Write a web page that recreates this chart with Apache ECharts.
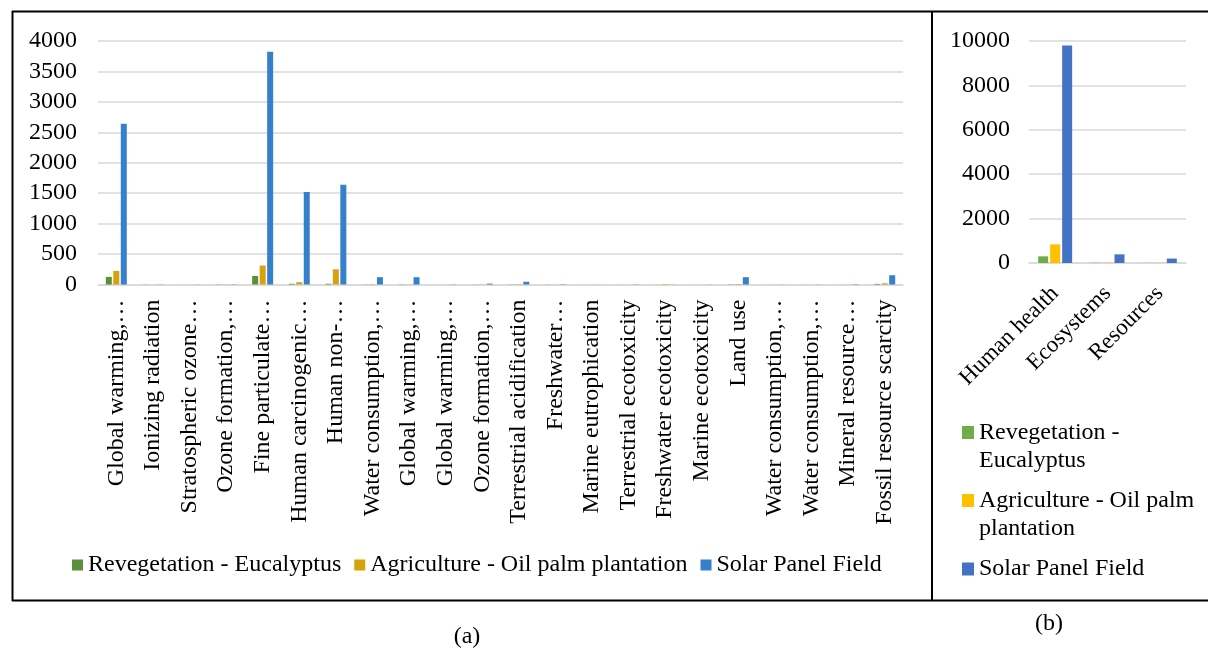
<!DOCTYPE html>
<html>
<head>
<meta charset="utf-8">
<script src="https://cdn.jsdelivr.net/npm/echarts@6/dist/echarts.min.js"></script>
<style>
  html, body { margin: 0; padding: 0; background: #fff; }
  #chart { width: 1208px; height: 651px; }
</style>
</head>
<body>
<div id="chart"></div>
<script>
// (a) midpoint impact categories
const midpointCategories = [
  'Global warming,…', 'Ionizing radiation', 'Stratospheric ozone…', 'Ozone formation,…',
  'Fine particulate…', 'Human carcinogenic…', 'Human non-…', 'Water consumption,…',
  'Global warming,…', 'Global warming,…', 'Ozone formation,…', 'Terrestrial acidification',
  'Freshwater…', 'Marine eutrophication', 'Terrestrial ecotoxicity', 'Freshwater ecotoxicity',
  'Marine ecotoxicity', 'Land use', 'Water consumption,…', 'Water consumption,…',
  'Mineral resource…', 'Fossil resource scarcity'
];
const midpointReveg = [125, 2, 1, 3, 141, 12, 12, 2, 3, 1, 2, 3, 2, 1, 1, 1, 1, 4, 1, 1, 1, 10];
const midpointAgri  = [223, 1, 1, 3, 311, 38, 250, 5, 3, 1, 3, 6, 2, 1, 1, 8, 1, 8, 2, 1, 1, 20];
const midpointSolar = [2640, 3, 2, 4, 3825, 1520, 1639, 120, 120, 3, 15, 45, 5, 1, 3, 2, 2, 120, 2, 2, 5, 152];

// (b) endpoint damage categories
const endpointCategories = ['Human health', 'Ecosystems', 'Resources'];
const endpointReveg = [300, 10, 5];
const endpointAgri  = [840, 15, 10];
const endpointSolar = [9800, 390, 200];

const seriesNames = ['Revegetation - Eucalyptus', 'Agriculture - Oil palm plantation', 'Solar Panel Field'];
const colorsA = ['#5B8F3B', '#D5A30C', '#3580CB'];
const colorsB = ['#70AD47', '#FFC000', '#4472C4'];
const wrappedNames = {
  'Revegetation - Eucalyptus': 'Revegetation -\nEucalyptus',
  'Agriculture - Oil palm plantation': 'Agriculture - Oil palm\nplantation',
  'Solar Panel Field': 'Solar Panel Field'
};

const FONT = '"Liberation Serif", "Times New Roman", serif';
const chart = echarts.init(document.getElementById('chart'), null, { renderer: 'canvas' });

const gridLine = { show: true, lineStyle: { color: '#D9D9D9', width: 1.5 } };
const baseAxisLine = { show: true, lineStyle: { color: '#D9D9D9', width: 1.5 } };
const plainNumber = v => String(v);

// legend icon with the square kept at the top of a taller box,
// so it lines up with the first line of wrapped text
const topSquare = 'path://M0 0H12V13H0Z M0 41.99H0.01V42H0Z';

function rightLegend(idx, top, twoLines) {
  return {
    orient: 'vertical',
    left: 962,
    top: top,
    padding: 0,
    itemWidth: 12,
    itemHeight: twoLines ? 42 : 13,
    itemGap: 0,
    icon: twoLines ? topSquare : 'rect',
    data: [{ name: seriesNames[idx], itemStyle: { color: colorsB[idx] } }],
    formatter: name => wrappedNames[name],
    textStyle: { fontFamily: FONT, fontSize: 24, color: '#000', lineHeight: 28, padding: [0, 0, 0, 0] }
  };
}

const option = {
  animation: false,
  backgroundColor: '#fff',
  textStyle: { fontFamily: FONT },
  graphic: [
    { type: 'line', shape: { x1: 12, y1: 11.5, x2: 1208, y2: 11.5 }, style: { stroke: '#000', lineWidth: 2 } },
    { type: 'line', shape: { x1: 12, y1: 600.5, x2: 1208, y2: 600.5 }, style: { stroke: '#000', lineWidth: 2 } },
    { type: 'line', shape: { x1: 12.5, y1: 11, x2: 12.5, y2: 601 }, style: { stroke: '#000', lineWidth: 2 } },
    { type: 'line', shape: { x1: 932, y1: 11, x2: 932, y2: 601 }, style: { stroke: '#000', lineWidth: 2 } },
    { type: 'text', x: 467, y: 637, style: { text: '(a)', font: '24px ' + FONT, fill: '#000', textAlign: 'center', textVerticalAlign: 'middle' } },
    { type: 'text', x: 1049, y: 624, style: { text: '(b)', font: '24px ' + FONT, fill: '#000', textAlign: 'center', textVerticalAlign: 'middle' } }
  ],
  legend: [
    {
      left: 72,
      top: 553,
      padding: 0,
      itemWidth: 11,
      itemHeight: 11,
      itemGap: 13,
      icon: 'rect',
      data: seriesNames.map((n, i) => ({ name: n, itemStyle: { color: colorsA[i] } })),
      textStyle: { fontFamily: FONT, fontSize: 24, color: '#000', padding: [0, 0, 0, 0] }
    },
    rightLegend(0, 419, true),
    rightLegend(1, 487, true),
    rightLegend(2, 555, false)
  ],
  grid: [
    { left: 98, top: 41, width: 805, height: 243.5 },
    { left: 1029, top: 41, width: 157, height: 222 }
  ],
  xAxis: [
    {
      gridIndex: 0,
      type: 'category',
      data: midpointCategories,
      axisLine: baseAxisLine,
      axisTick: { show: false },
      axisLabel: { rotate: 90, interval: 0, margin: 15, fontFamily: FONT, fontSize: 24, color: '#000' }
    },
    {
      gridIndex: 1,
      type: 'category',
      data: endpointCategories,
      axisLine: baseAxisLine,
      axisTick: { show: false },
      axisLabel: { rotate: 45, interval: 0, margin: 27, fontFamily: FONT, fontSize: 23, color: '#000' }
    }
  ],
  yAxis: [
    {
      gridIndex: 0,
      type: 'value',
      min: 0, max: 4000, interval: 500,
      axisLine: { show: false },
      axisTick: { show: false },
      splitLine: gridLine,
      axisLabel: { margin: 21, fontFamily: FONT, fontSize: 24, color: '#000', formatter: plainNumber }
    },
    {
      gridIndex: 1,
      type: 'value',
      min: 0, max: 10000, interval: 2000,
      axisLine: { show: false },
      axisTick: { show: false },
      splitLine: gridLine,
      axisLabel: { margin: 19, fontFamily: FONT, fontSize: 24, color: '#000', formatter: plainNumber }
    }
  ],
  series: [
    ...[midpointReveg, midpointAgri, midpointSolar].map((d, i) => ({
      name: seriesNames[i],
      type: 'bar',
      xAxisIndex: 0,
      yAxisIndex: 0,
      data: d,
      barWidth: 6,
      barGap: '25%',
      itemStyle: { color: colorsA[i] }
    })),
    ...[endpointReveg, endpointAgri, endpointSolar].map((d, i) => ({
      name: seriesNames[i],
      type: 'bar',
      xAxisIndex: 1,
      yAxisIndex: 1,
      data: d,
      barWidth: 10,
      barGap: '20%',
      itemStyle: { color: colorsB[i] }
    }))
  ]
};

chart.setOption(option);
</script>
</body>
</html>
